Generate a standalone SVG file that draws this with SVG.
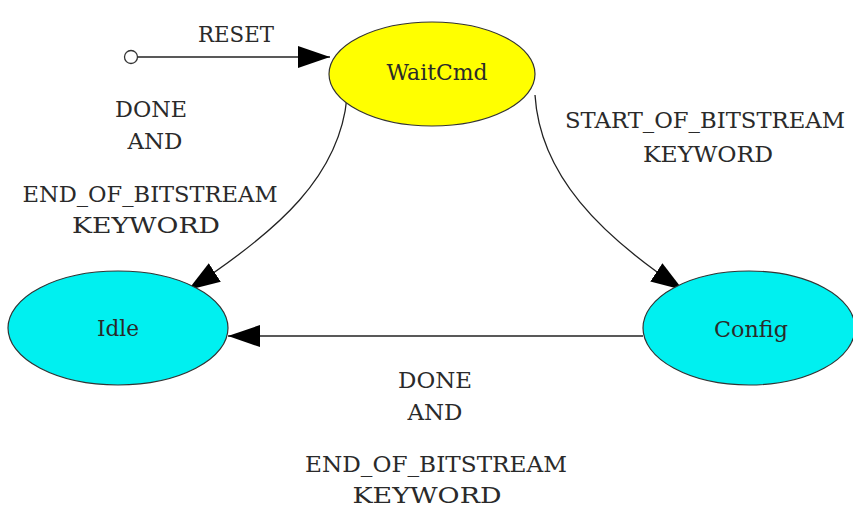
<svg xmlns="http://www.w3.org/2000/svg" width="853" height="511" viewBox="0 0 853 511">
<style>
.lbl{font-family:"DejaVu Serif","Liberation Serif",serif;font-size:23px;fill:#2a2a2a;text-anchor:middle}
.node{stroke:#333;stroke-width:1.2}
.edge{fill:none;stroke:#222;stroke-width:1.3}
</style>
<defs>
<marker id="ah" viewBox="0 0 32 22" refX="32" refY="11" markerWidth="32" markerHeight="22" markerUnits="userSpaceOnUse" orient="auto">
<path d="M0,0 L32,11 L0,22 z" fill="#000"/>
</marker>
</defs>
<rect width="853" height="511" fill="#fff"/>
<g id="connectors">
<circle id="start" cx="131" cy="57" r="6.5" fill="#fff" stroke="#333" stroke-width="1.3"/>
<path class="edge" d="M138,57 L330,57" marker-end="url(#ah)"/>
<text class="lbl" x="236" y="42" textLength="76" lengthAdjust="spacingAndGlyphs">RESET</text>
<path class="edge" d="M347,97 C340,175 280,230 188,290" marker-end="url(#ah)"/>
<text class="lbl" x="151" y="117" textLength="72" lengthAdjust="spacingAndGlyphs">DONE</text>
<text class="lbl" x="155" y="149" textLength="55" lengthAdjust="spacingAndGlyphs">AND</text>
<text class="lbl" x="150" y="202" textLength="255" lengthAdjust="spacingAndGlyphs">END_OF_BITSTREAM</text>
<text class="lbl" x="146" y="233" textLength="148" lengthAdjust="spacingAndGlyphs">KEYWORD</text>
<path class="edge" d="M535,95 C540,175 600,235 683,290" marker-end="url(#ah)"/>
<text class="lbl" x="705" y="128" textLength="280" lengthAdjust="spacingAndGlyphs">START_OF_BITSTREAM</text>
<text class="lbl" x="708" y="162" textLength="130" lengthAdjust="spacingAndGlyphs">KEYWORD</text>
<path class="edge" d="M643,336 L228,336" marker-end="url(#ah)"/>
<text class="lbl" x="435" y="388" textLength="74" lengthAdjust="spacingAndGlyphs">DONE</text>
<text class="lbl" x="435" y="420" textLength="55" lengthAdjust="spacingAndGlyphs">AND</text>
<text class="lbl" x="436" y="472" textLength="262" lengthAdjust="spacingAndGlyphs">END_OF_BITSTREAM</text>
<text class="lbl" x="427" y="503" textLength="149" lengthAdjust="spacingAndGlyphs">KEYWORD</text>
</g>
<g id="WaitCmd">
<ellipse class="node" cx="432" cy="74" rx="103" ry="52" fill="#ffff00"/>
<text class="lbl" x="437" y="80" textLength="101" lengthAdjust="spacingAndGlyphs">WaitCmd</text>
</g>
<g id="Idle">
<ellipse class="node" cx="118" cy="328" rx="110" ry="57" fill="#00f0f0"/>
<text class="lbl" x="118" y="336" textLength="42" lengthAdjust="spacingAndGlyphs">Idle</text>
</g>
<g id="Config">
<ellipse class="node" cx="749" cy="328" rx="106" ry="57" fill="#00f0f0"/>
<text class="lbl" x="751" y="337" textLength="74" lengthAdjust="spacingAndGlyphs">Config</text>
</g>
</svg>
